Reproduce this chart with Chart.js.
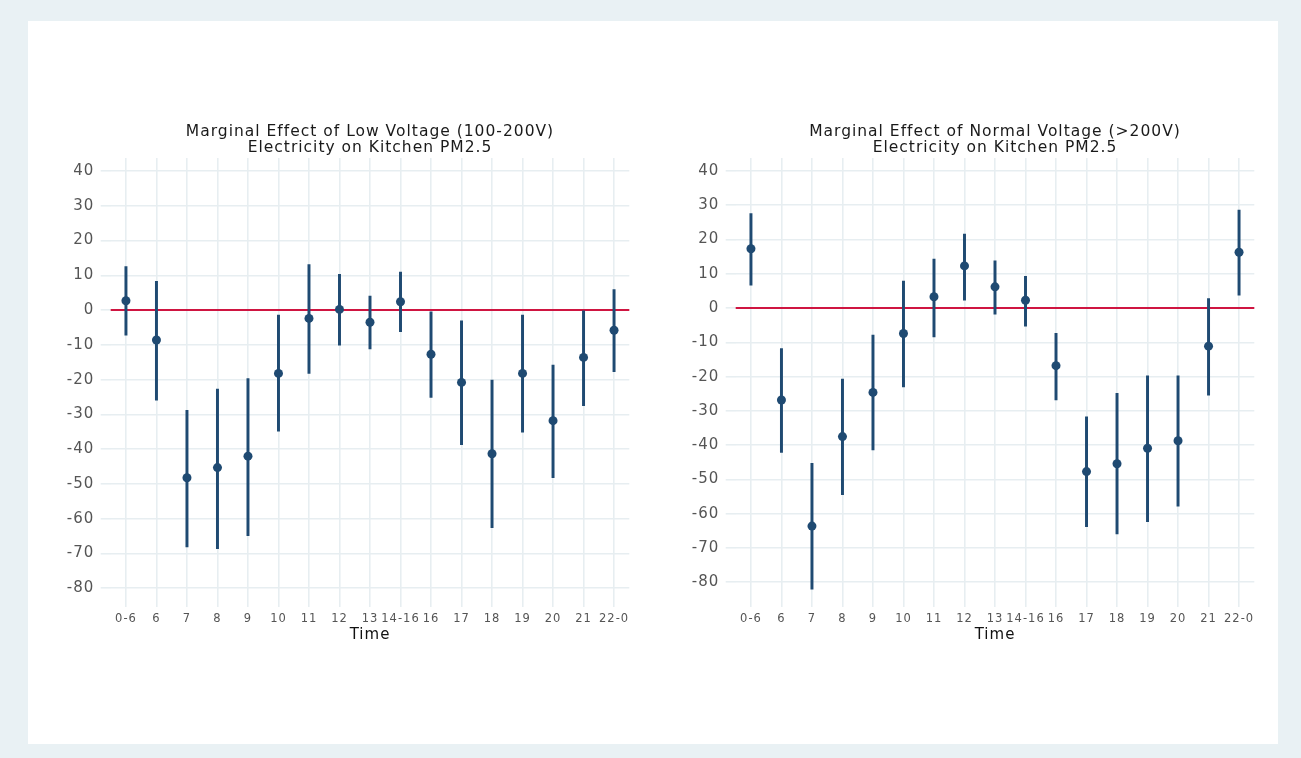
<!DOCTYPE html>
<html>
<head>
<meta charset="utf-8">
<title>Marginal effect of voltage on kitchen PM2.5</title>
<script src="https://cdn.jsdelivr.net/npm/chart.js@4.4.1/dist/chart.umd.min.js"></script>
<style>
  html, body {
    margin: 0;
    padding: 0;
    width: 1301px;
    height: 758px;
    background: #e9f1f4;
    overflow: hidden;
  }
  .panel {
    position: absolute;
    left: 28px;
    top: 21px;
    width: 1250px;
    height: 723px;
    background: #ffffff;
  }
  canvas {
    position: absolute;
    top: 110px;
  }
  #lowChart { left: 40px; }
  #normalChart { left: 665px; }
</style>
</head>
<body>
<div class="panel"></div>
<canvas id="lowChart" width="600" height="540"></canvas>
<canvas id="normalChart" width="600" height="540"></canvas>

<script>
// Time-of-day categories and y tick values
const timeLabels = ['0-6', '6', '7', '8', '9', '10', '11', '12', '13', '14-16', '16', '17', '18', '19', '20', '21', '22-0'];
const yTicks = [-80, -70, -60, -50, -40, -30, -20, -10, 0, 10, 20, 30, 40];
const refValue = 0;

// Low voltage (100-200V): estimate and confidence interval
const lowEst   = [2.7, -8.6, -48.2, -45.3, -42.0, -18.2, -2.4, 0.2, -3.5, 2.4, -12.7, -20.8, -41.3, -18.2, -31.8, -13.6, -5.8];
const lowUpper = [12.5, 8.3, -28.8, -22.7, -19.7, -1.4, 13.1, 10.3, 4.0, 10.9, -0.5, -3.1, -20.1, -1.4, -15.8, 0.0, 5.9];
const lowLower = [-7.2, -25.9, -68.1, -68.6, -64.9, -34.8, -18.2, -10.1, -11.2, -6.2, -25.1, -38.7, -62.6, -35.1, -48.2, -27.5, -17.7];

// Normal voltage (>200V)
const normalEst   = [17.3, -26.8, -63.6, -37.5, -24.6, -7.4, 3.3, 12.3, 6.2, 2.3, -16.8, -47.7, -45.4, -40.9, -38.7, -11.1, 16.3];
const normalUpper = [27.6, -11.8, -45.3, -20.7, -7.9, 7.9, 14.3, 21.6, 13.8, 9.3, -7.4, -31.7, -24.9, -19.8, -19.8, 2.8, 28.6];
const normalLower = [6.7, -42.1, -82.0, -54.4, -41.4, -23.0, -8.4, 2.3, -1.8, -5.3, -26.8, -63.8, -65.9, -62.3, -57.8, -25.4, 3.8];

const FONT = "'DejaVu Sans', Verdana, sans-serif";
const NAVY = '#1f4a72';
const RED = '#cf1541';
const GRID = '#e7eef1';
const LETTER_SPACING = '1px';

// The original text is drawn a bit wider than a plain sans; widen it slightly
const textSpacing = {
  id: 'textSpacing',
  beforeUpdate(chart) { chart.ctx.letterSpacing = LETTER_SPACING; },
  beforeDraw(chart) { chart.ctx.letterSpacing = LETTER_SPACING; }
};

// Horizontal reference line across the whole plot area
const refLine = {
  id: 'refLine',
  beforeDatasetsDraw(chart) {
    const { ctx, chartArea, scales } = chart;
    const y = scales.y.getPixelForValue(refValue);
    ctx.save();
    ctx.strokeStyle = RED;
    ctx.lineWidth = 2;
    ctx.beginPath();
    ctx.moveTo(chartArea.left, y);
    ctx.lineTo(chartArea.right, y);
    ctx.stroke();
    ctx.restore();
  }
};

const makeChart = (id, title, est, lower, upper, yMin, yMax) => {
  new Chart(document.getElementById(id), {
    type: 'bar',
    data: {
      labels: timeLabels,
      datasets: [
        {
          type: 'line',
          data: est,
          showLine: false,
          pointRadius: 4.5,
          pointHoverRadius: 4.5,
          pointBackgroundColor: NAVY,
          pointBorderColor: NAVY,
          pointBorderWidth: 0
        },
        {
          type: 'bar',
          data: lower.map((lo, i) => [lo, upper[i]]),
          backgroundColor: NAVY,
          borderWidth: 0,
          barThickness: 2.3
        }
      ]
    },
    options: {
      responsive: false,
      animation: false,
      layout: { padding: { left: 0, right: 10.7, top: 0, bottom: 0 } },
      plugins: {
        legend: { display: false },
        tooltip: { enabled: false },
        title: {
          display: true,
          fullSize: false,
          text: title,
          color: '#1a1a1a',
          font: { family: FONT, size: 15.5, weight: 'normal', lineHeight: 0.99 },
          padding: { top: 14.5, bottom: 2.8 }
        }
      },
      scales: {
        x: {
          offset: true,
          grid: { offset: false, color: GRID, lineWidth: 1.6, tickLength: 4, tickColor: GRID },
          border: { display: false },
          ticks: { color: '#555555', font: { family: FONT, size: 11.5 }, padding: 5, maxRotation: 0, autoSkip: false },
          title: {
            display: true,
            text: 'Time',
            color: '#111111',
            font: { family: FONT, size: 15 },
            padding: { top: 0, bottom: 6 }
          },
          afterFit: scale => { scale.height = 47; }
        },
        y: {
          min: yMin,
          max: yMax,
          grid: { color: GRID, lineWidth: 1.6, tickLength: 10, tickColor: GRID },
          border: { display: false },
          ticks: { color: '#555555', font: { family: FONT, size: 15 }, padding: 6.4 },
          afterBuildTicks: scale => { scale.ticks = yTicks.map(v => ({ value: v })); },
          afterFit: scale => { scale.width = 70.7; }
        }
      }
    },
    plugins: [textSpacing, refLine]
  });
};

makeChart('lowChart',
  ['Marginal Effect of Low Voltage (100-200V)', 'Electricity on Kitchen PM2.5'],
  lowEst, lowLower, lowUpper, -84.23, 43.74);

makeChart('normalChart',
  ['Marginal Effect of Normal Voltage (>200V)', 'Electricity on Kitchen PM2.5'],
  normalEst, normalLower, normalUpper, -86.04, 43.79);
</script>
</body>
</html>
